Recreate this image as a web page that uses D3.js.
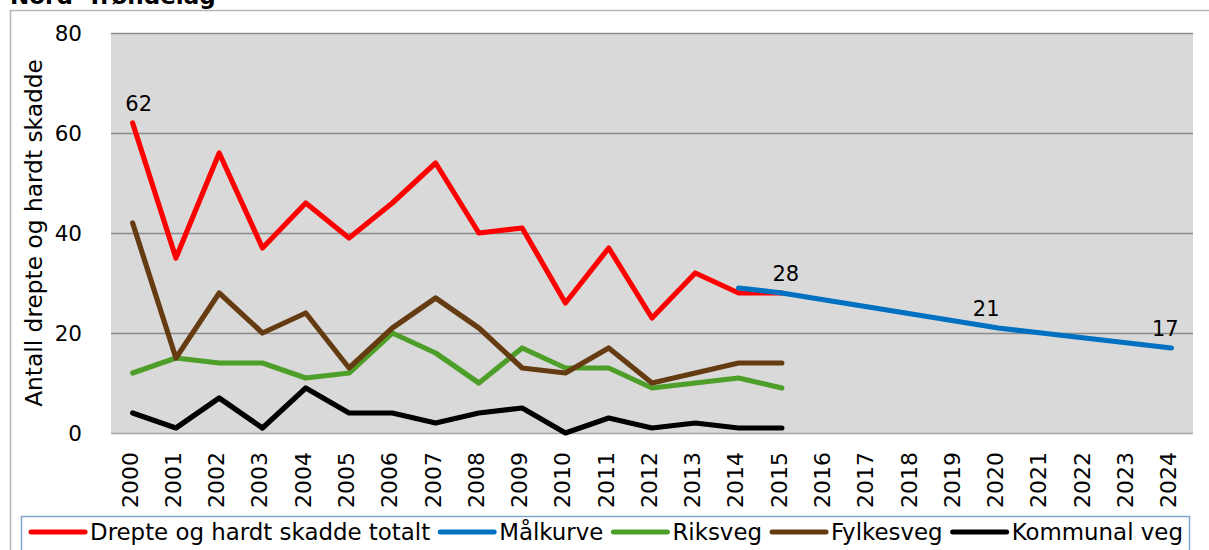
<!DOCTYPE html>
<html>
<head>
<meta charset="utf-8">
<script src="https://cdn.jsdelivr.net/npm/d3@7"></script>
<style>
  html, body { margin: 0; padding: 0; background: #ffffff; }
  svg { display: block; font-family: "DejaVu Sans", sans-serif; }
</style>
</head>
<body>
<svg id="chart" width="1209" height="550"></svg>
<script>
// Trafikkulykker i Nord-Trøndelag: drepte og hardt skadde per år
const years = ["2000","2001","2002","2003","2004","2005","2006","2007","2008","2009","2010","2011","2012",
               "2013","2014","2015","2016","2017","2018","2019","2020","2021","2022","2023","2024"];
const yTicks = [0, 20, 40, 60, 80];

const totaltYears = years.slice(0, 16);
const totalt    = [62, 35, 56, 37, 46, 39, 46, 54, 40, 41, 26, 37, 23, 32, 28, 28];
const riksveg   = [12, 15, 14, 14, 11, 12, 20, 16, 10, 17, 13, 13, 9, 10, 11, 9];
const fylkesveg = [42, 15, 28, 20, 24, 13, 21, 27, 21, 13, 12, 17, 10, 12, 14, 14];
const kommunal  = [4, 1, 7, 1, 9, 4, 4, 2, 4, 5, 0, 3, 1, 2, 1, 1];

const malYears  = years.slice(14);
const malkurve  = [29, 28, 26.6, 25.2, 23.8, 22.4, 21, 20, 19, 18, 17];

const seriesNames = ["Drepte og hardt skadde totalt", "Målkurve", "Riksveg", "Fylkesveg", "Kommunal veg"];
const colors = ["#ff0000", "#0070c0", "#4e9f2a", "#653c12", "#000000"];

const svg = d3.select("#chart");

// outer chart frame (continues past the visible area)
svg.append("rect")
  .attr("x", 10.5).attr("y", 10.5).attr("width", 1400).attr("height", 700)
  .attr("fill", "none").attr("stroke", "#b8b8b8").attr("stroke-width", 1.5);

// title
svg.append("text")
  .attr("x", 10).attr("y", 4)
  .attr("font-size", 23).attr("font-weight", "bold")
  .attr("fill", "#000")
  .text("Nord -Trøndelag");

const plot = { left: 111, right: 1193, top: 33, bottom: 433 };

const x = d3.scaleBand().domain(years).range([plot.left, plot.right]).padding(0);
const cx = d => x(d) + x.bandwidth() / 2;
const y = d3.scaleLinear().domain([0, 80]).range([plot.bottom, plot.top]);

// plot background
svg.append("rect")
  .attr("x", plot.left).attr("y", plot.top)
  .attr("width", plot.right - plot.left).attr("height", plot.bottom - plot.top)
  .attr("fill", "#d9d9d9");

// horizontal gridlines and value ticks
const yAxis = d3.axisLeft(y).tickValues(yTicks).tickSize(-(plot.right - plot.left)).tickFormat(d => d);
const gy = svg.append("g").attr("transform", `translate(${plot.left},0)`).call(yAxis);
gy.select(".domain").remove();
gy.selectAll(".tick line")
  .attr("stroke", d => d === 0 ? "#a6a6a6" : "#8a8a8a")
  .attr("stroke-width", 1.6);
gy.selectAll(".tick text")
  .attr("x", -29).attr("dy", "0.36em")
  .attr("font-size", 21.5).attr("font-family", "DejaVu Sans").attr("fill", "#000");

// y axis title
svg.append("text")
  .attr("transform", `translate(33,${(plot.top + plot.bottom) / 2}) rotate(-90)`)
  .attr("text-anchor", "middle").attr("dominant-baseline", "central")
  .attr("font-size", 23.3).attr("fill", "#000")
  .text("Antall drepte og hardt skadde");

// year labels
const xAxis = d3.axisBottom(x).tickSize(0);
const gx = svg.append("g").attr("transform", `translate(0,${plot.bottom})`).call(xAxis);
gx.select(".domain").remove();
gx.selectAll(".tick text")
  .attr("font-size", 22).attr("font-family", "DejaVu Sans").attr("fill", "#000")
  .attr("text-anchor", "end")
  .attr("transform", "translate(-3,19) rotate(-90)")
  .attr("x", 0).attr("y", 0).attr("dy", "0.36em");

// series lines
const line = d3.line().x(d => cx(d[0])).y(d => y(d[1])).curve(d3.curveLinear);
const seriesData = [
  totaltYears.map((yr, i) => [yr, totalt[i]]),
  malYears.map((yr, i) => [yr, malkurve[i]]),
  totaltYears.map((yr, i) => [yr, riksveg[i]]),
  totaltYears.map((yr, i) => [yr, fylkesveg[i]]),
  totaltYears.map((yr, i) => [yr, kommunal[i]])
];
seriesData.forEach((data, i) => {
  svg.append("path")
    .datum(data)
    .attr("d", line)
    .attr("fill", "none")
    .attr("stroke", colors[i])
    .attr("stroke-width", 5.2)
    .attr("stroke-linejoin", "round")
    .attr("stroke-linecap", "round");
});

// data labels
const labels = [
  { yr: totaltYears[0], v: totalt[0], dx: 6 },
  { yr: malYears[1], v: malkurve[1], dx: 4 },
  { yr: malYears[6], v: malkurve[6], dx: -12 },
  { yr: malYears[10], v: malkurve[10], dx: -6 }
];
svg.selectAll(".dlabel").data(labels).enter().append("text")
  .attr("class", "dlabel")
  .attr("x", d => cx(d.yr) + d.dx)
  .attr("y", d => y(d.v) - 12)
  .attr("text-anchor", "middle")
  .attr("font-size", 21).attr("fill", "#000")
  .text(d => d3.format("d")(d.v));

// legend
const legend = svg.append("g");
legend.append("rect")
  .attr("x", 21.5).attr("y", 516.5).attr("width", 1168).attr("height", 60)
  .attr("fill", "#fff").attr("stroke", "#7ea6cf").attr("stroke-width", 1.5);

let lx = 31;
const ly = 532;
seriesNames.forEach((name, i) => {
  legend.append("line")
    .attr("x1", lx).attr("x2", lx + 54)
    .attr("y1", ly).attr("y2", ly)
    .attr("stroke", colors[i]).attr("stroke-width", 5).attr("stroke-linecap", "round");
  const t = legend.append("text")
    .attr("x", lx + 59).attr("y", ly).attr("dy", "0.36em")
    .attr("font-size", 22.9).attr("fill", "#000")
    .text(name);
  lx += 59 + t.node().getComputedTextLength() + 10;
});
</script>
</body>
</html>
